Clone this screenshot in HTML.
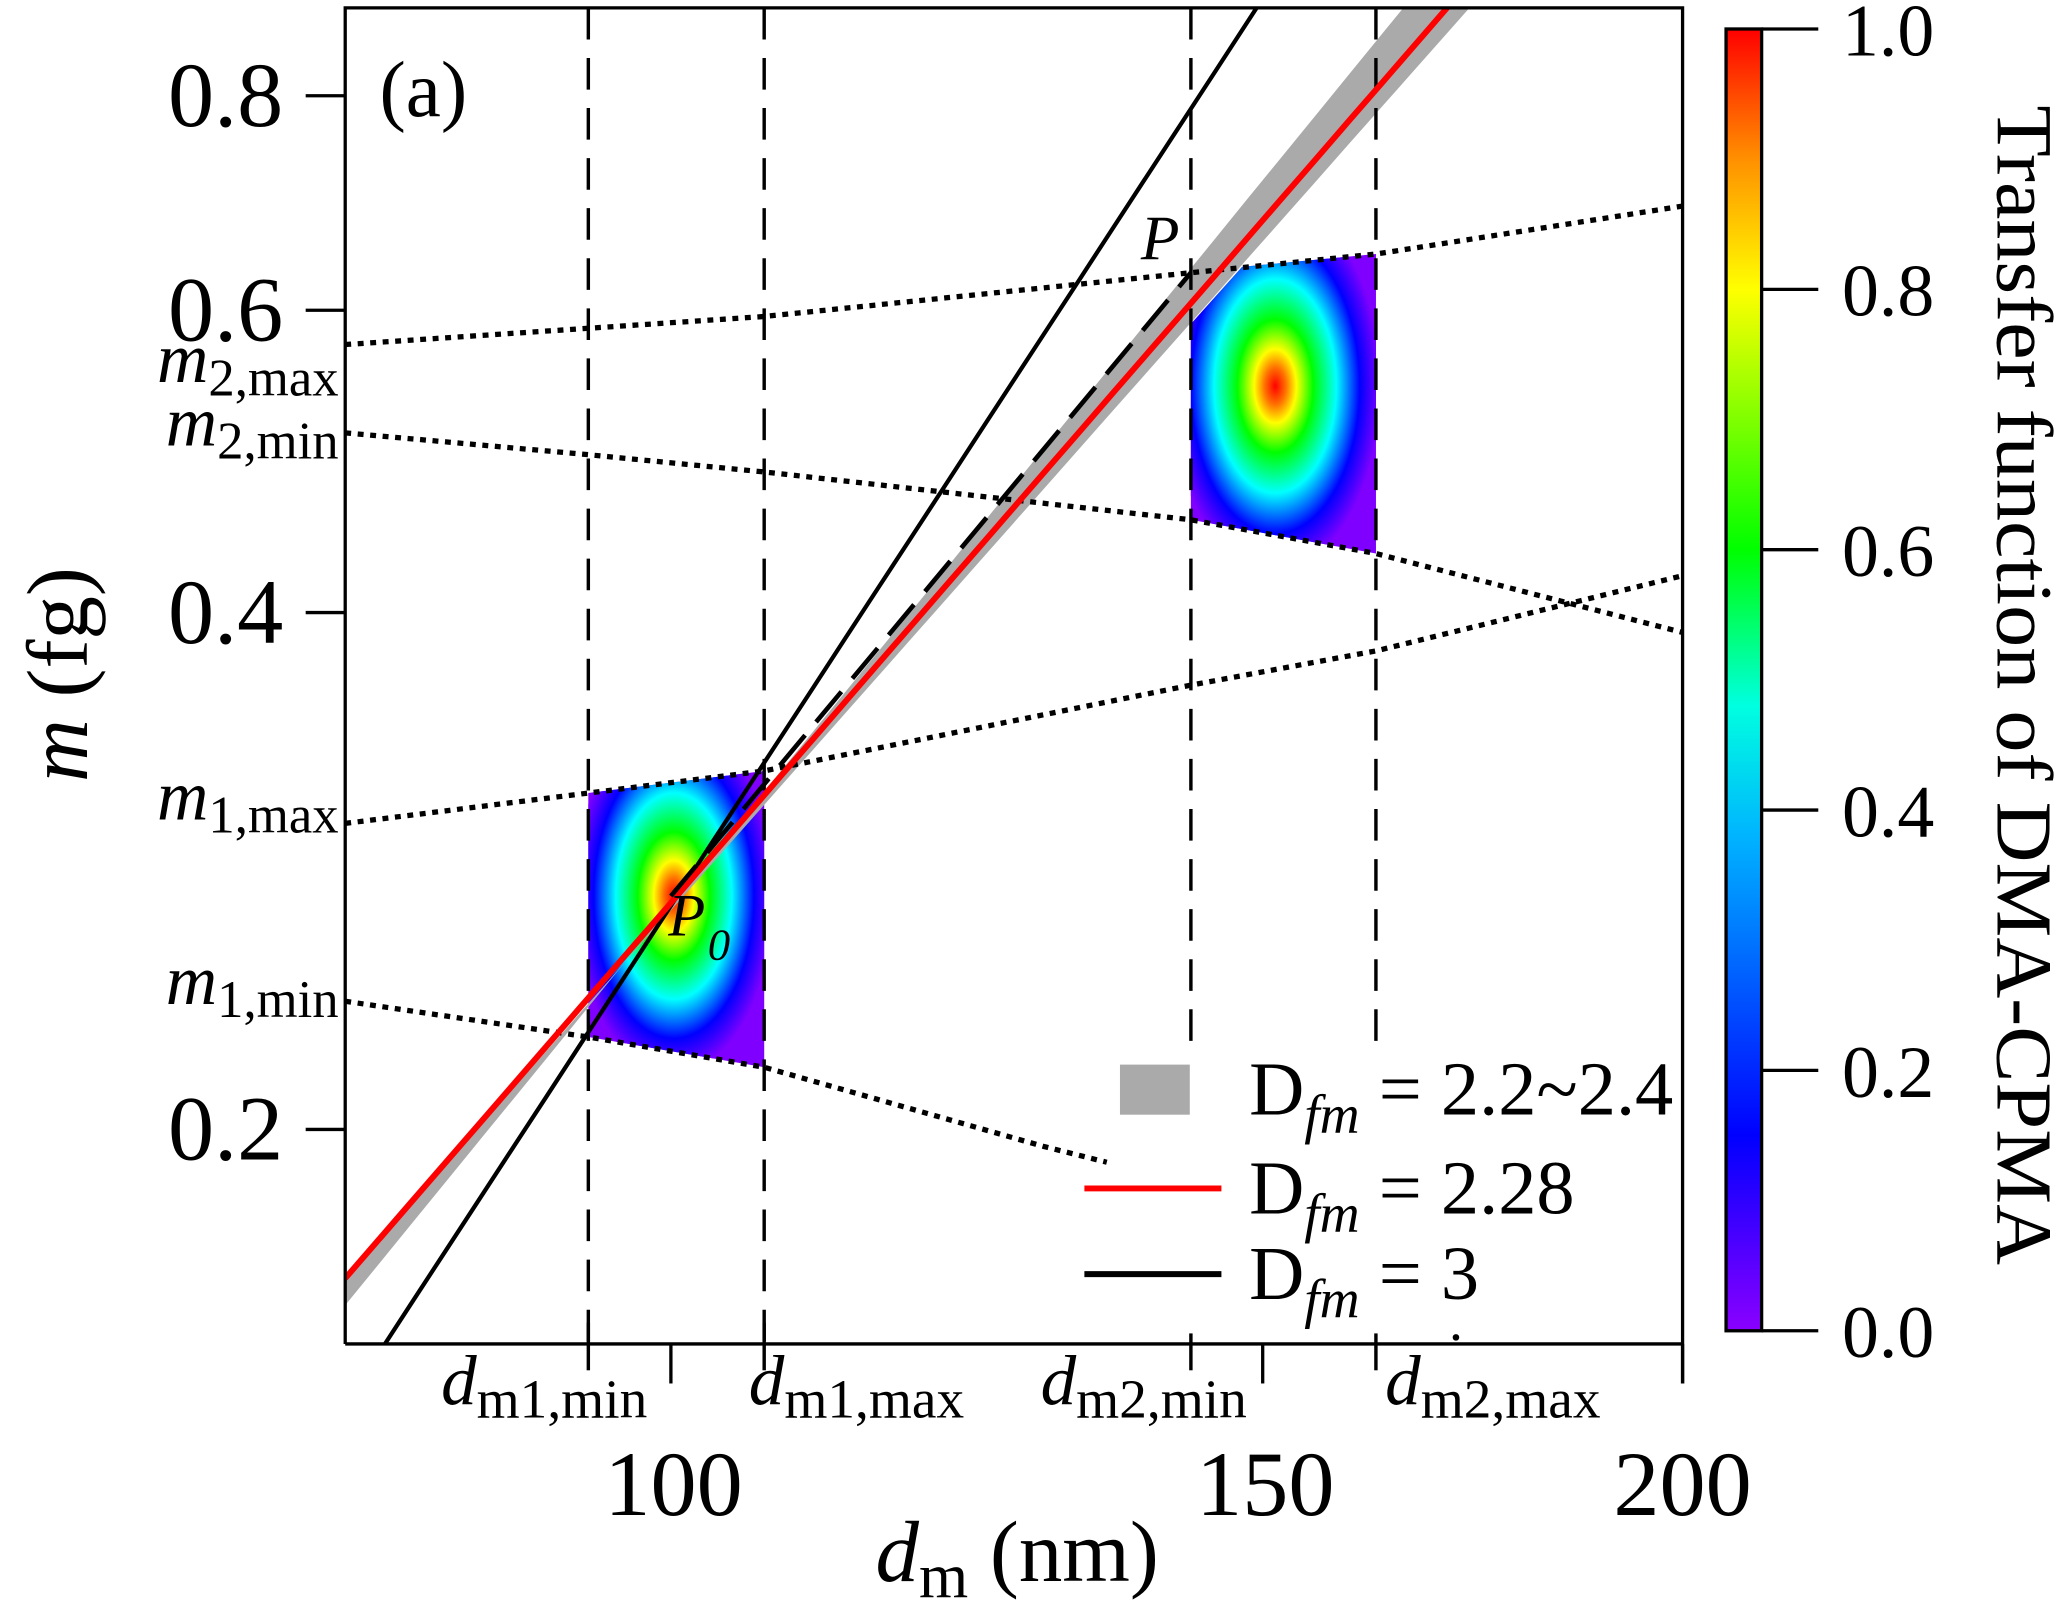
<!DOCTYPE html>
<html><head><meta charset="utf-8">
<style>
html,body{margin:0;padding:0;background:#fff;}
svg{display:block;font-family:"Liberation Serif","DejaVu Serif",serif;}
</style></head>
<body>
<svg id="chart" width="2066" height="1613" viewBox="0 0 1568 1224.2" preserveAspectRatio="none" xmlns="http://www.w3.org/2000/svg">
<defs>
  <clipPath id="plotclip"><rect x="262" y="6" width="1015" height="1014"/></clipPath>
  <linearGradient id="cbgrad" x1="0" y1="1" x2="0" y2="0">
    <stop offset="0" stop-color="#8a00ff"/>
    <stop offset="0.15" stop-color="#0000ff"/>
    <stop offset="0.38" stop-color="#00b4ff"/>
    <stop offset="0.48" stop-color="#00ffe0"/>
    <stop offset="0.6" stop-color="#00ff00"/>
    <stop offset="0.8" stop-color="#ffff00"/>
    <stop offset="0.9" stop-color="#ff9000"/>
    <stop offset="1" stop-color="#ff0000"/>
  </linearGradient>
  <radialGradient id="tfgrad">
    <stop offset="0" stop-color="#ff0000"/>
    <stop offset="0.1" stop-color="#ff7000"/>
    <stop offset="0.2" stop-color="#ffff00"/>
    <stop offset="0.36" stop-color="#00ff00"/>
    <stop offset="0.58" stop-color="#00ffff"/>
    <stop offset="0.8" stop-color="#0000ff"/>
    <stop offset="1" stop-color="#8000ff"/>
  </radialGradient>
</defs>
<g id="patches"></g>
<g id="marks" clip-path="url(#plotclip)"></g>
<g id="axes"></g>
<g id="legend"></g>
<g id="colorbar"></g>
</svg>
<script>
// ---- data ----
const xTicks = [100, 150, 200];
const yTicks = [0.2, 0.4, 0.6, 0.8];
const yTickLabels = ["0.2", "0.4", "0.6", "0.8"];
const cbTicks = [0, 0.2, 0.4, 0.6, 0.8, 1.0];
const cbTickLabels = ["0.0", "0.2", "0.4", "0.6", "0.8", "1.0"];
const dBounds = [94.5, 106.6, 142.8, 162.1];
const dBoundNames = ["m1,min", "m1,max", "m2,min", "m2,max"];
const m2maxD = [80, 106.6, 142.8, 162.1, 200];
const m2maxM = [0.573, 0.595, 0.631, 0.647, 0.690];
const m2minD = [80, 94.5, 106.6, 142.8, 162.1, 200];
const m2minM = [0.509, 0.4943, 0.483, 0.453, 0.433, 0.3895];
const m1maxD = [80, 94.5, 106.6, 142.8, 162.1, 200];
const m1maxM = [0.3015, 0.314, 0.3235, 0.3629, 0.380, 0.4203];
const m1minD = [80, 94.5, 106.6, 129.1, 134.8];
const m1minM = [0.2375, 0.2264, 0.2174, 0.1955, 0.1914];
const redDfm = 2.257, blackDfm = 3, bandLo = 2.212, bandHi = 2.40;
const redRef = [80, 0.1638];
const bandLoRef = [80, 0.1638];
const bandHiRef = [80, 0.158];
const p0 = [100, 0.2735];
const pPoint = [142.8, 0.631];
const blackAt100 = 0.270;
const patch1Center = [100.2, 0.2735];
const patch1D = [94.5, 106.6, 106.6, 94.5];
const patch1M = [0.314, 0.3235, 0.2174, 0.2264];
const patch2Center = [151.3, 0.542];
const patch2D = [142.8, 142.8, 147.9, 162.1, 162.1];
const patch2M = [0.453, 0.589, 0.636, 0.647, 0.433];

// ---- axes functions ----
const X0 = 262, X1 = 1277, Y0 = 6, Y1 = 1020;
const xmin = 80, xmax = 200, ymin = 0.15, ymax = 0.9;
function sx(d){ return X0 + (X1 - X0) * Math.log(d / xmin) / Math.log(xmax / xmin); }
function sy(m){ return Y1 - (Y1 - Y0) * Math.log(m / ymin) / Math.log(ymax / ymin); }
const CB_X = 1310, CB_W = 27, CB_Y0 = 22, CB_Y1 = 1010;
function cy(v){ return CB_Y1 - (CB_Y1 - CB_Y0) * v; }

const NS = "http://www.w3.org/2000/svg";
function mk(tag, parent, attrs){
  const e = document.createElementNS(NS, tag);
  for (const k in attrs) e.setAttribute(k, attrs[k]);
  parent.appendChild(e);
  return e;
}
const patches = document.getElementById('patches');
const marks = document.getElementById('marks');
const axes = document.getElementById('axes');
const legend = document.getElementById('legend');
const colorbar = document.getElementById('colorbar');

// ---- patches ----
function drawPatch(D, M, c, rx, ry, name){
  const pts = D.map((d,i)=> sx(d).toFixed(1)+','+sy(M[i]).toFixed(1)).join(' ');
  const id = name + '-clip';
  const cp = mk('clipPath', patches, {id:id});
  mk('polygon', cp, {points: pts});
  const bg = mk('polygon', patches, {points: pts, fill:'#8000ff'});
  
  
  const el = mk('ellipse', patches, {cx: sx(c[0]), cy: sy(c[1]), rx: rx, ry: ry, fill:'url(#tfgrad)', 'clip-path':'url(#'+id+')'});
  
  
}
drawPatch(patch1D, patch1M, patch1Center, 76, 135, 'transfer-patch-1');
drawPatch(patch2D, patch2M, patch2Center, 80, 140, 'transfer-patch-2');

// ---- gray band ----
const bandD = [];
for (let i=0;i<=40;i++) bandD.push(xmin * Math.pow(xmax/xmin, i/40));
const hiPts = bandD.map(d => sx(d).toFixed(1)+','+sy(bandHiRef[1]*Math.pow(d/bandHiRef[0], bandHi)).toFixed(1));
const loPts = bandD.slice().reverse().map(d => sx(d).toFixed(1)+','+sy(bandLoRef[1]*Math.pow(d/bandLoRef[0], bandLo)).toFixed(1));
const band = mk('polygon', marks, {points: hiPts.concat(loPts).join(' '), fill:'#aaaaaa'});



// ---- vertical dashed bounds ----
dBounds.forEach((d,i)=>{
  const yEnd = i >= 2 ? 795 : 1020;
  const l = mk('line', marks, {x1:sx(d), x2:sx(d), y1:Y0, y2:yEnd, stroke:'#000', 'stroke-width':2.6, 'stroke-dasharray':'24 14'});
  
  
});

// ---- dotted m lines ----
function dotted(D, M, name){
  const pts = D.map((d,i)=> sx(d).toFixed(1)+','+sy(M[i]).toFixed(1)).join(' ');
  const pl = mk('polyline', marks, {points: pts, fill:'none', stroke:'#000', 'stroke-width':4, 'stroke-dasharray':'4.5 5'});
  
  
}
dotted(m2maxD, m2maxM, 'm2-max-line');
dotted(m2minD, m2minM, 'm2-min-line');
dotted(m1maxD, m1maxM, 'm1-max-line');
dotted(m1minD, m1minM, 'm1-min-line');

// ---- power-law lines ----
function powerLine(D, refD, refM, color, w, name){
  const pts = bandD.map(d => sx(d).toFixed(1)+','+sy(refM*Math.pow(d/refD, D)).toFixed(1)).join(' ');
  const pl = mk('polyline', marks, {points: pts, fill:'none', stroke: color, 'stroke-width': w});
  
  
}
powerLine(blackDfm, 100, blackAt100, '#000', 3.2, 'dfm-3-line');
powerLine(redDfm, redRef[0], redRef[1], '#ff0000', 4.5, 'dfm-2.28-line');
const dl = mk('line', marks, {x1:sx(p0[0]), y1:sy(p0[1]), x2:sx(pPoint[0]), y2:sy(pPoint[1]), stroke:'#000', 'stroke-width':3.5, 'stroke-dasharray':'30 13'});



// point labels
const pl0 = mk('text', marks, {x: sx(p0[0]) - 2, y: sy(p0[1]) + 30, 'font-size':46, 'font-style':'italic'});
pl0.textContent = 'P';


const pl0s = mk('text', marks, {x: sx(p0[0]) + 28, y: sy(p0[1]) + 48, 'font-size':34, 'font-style':'italic'});
pl0s.textContent = '0';


const plp = mk('text', marks, {x: sx(pPoint[0]) - 38, y: sy(pPoint[1]) - 10, 'font-size':48, 'font-style':'italic'});
plp.textContent = 'P';



// ---- axes frame ----
const frame = mk('path', axes, {d:`M${X0},${Y1} L${X0},${Y0} L${X1},${Y0} L${X1},1050 M${X0},${Y1} L${X1},${Y1}`, fill:'none', stroke:'#000', 'stroke-width':2.5});



yTicks.forEach((v,i)=>{
  const t = mk('line', axes, {x1:232, x2:X0, y1:sy(v), y2:sy(v), stroke:'#000', 'stroke-width':2.5});
  
  
  const lb = mk('text', axes, {x:215, y:sy(v)+23, 'font-size':70, 'text-anchor':'end'});
  lb.textContent = yTickLabels[i];
  
  
});
xTicks.forEach((v)=>{
  const t = mk('line', axes, {x1:sx(v), x2:sx(v), y1:Y1, y2:1050, stroke:'#000', 'stroke-width':2.5});
  
  
  const lb = mk('text', axes, {x:sx(v)+(v===200?0:2), y:1150, 'font-size':70, 'text-anchor':'middle'});
  lb.textContent = String(v);
  
  
});
dBounds.forEach((d,i)=>{
  const t = mk('line', axes, {x1:sx(d), x2:sx(d), y1:1004, y2:1040, stroke:'#000', 'stroke-width':2.6});
  
  
});
// bound labels on x
const dLabelX = [413, 650, 868, 1133];
dBoundNames.forEach((n,i)=>{
  const t = mk('text', axes, {x:dLabelX[i], y:1066, 'font-size':54, 'text-anchor':'middle'});
  t.innerHTML = '<tspan font-style="italic">d</tspan><tspan font-size="42" dy="10">' + n + '</tspan>';
  
  
});
// m labels on y
const mLabelY = [290, 338, 622, 762];
const mLabelSub = ["2,max", "2,min", "1,max", "1,min"];
mLabelSub.forEach((s,i)=>{
  const t = mk('text', axes, {x:257, y:mLabelY[i], 'font-size':54, 'text-anchor':'end'});
  t.innerHTML = '<tspan font-style="italic">m</tspan><tspan font-size="40" dy="10">' + s + '</tspan>';
  
  
});
const pa = mk('text', axes, {x:288, y:88, 'font-size':60});
pa.textContent = '(a)';


const xt = mk('text', axes, {x:772, y:1200, 'font-size':66, 'text-anchor':'middle'});
xt.innerHTML = '<tspan font-style="italic">d</tspan><tspan font-size="48" dy="12">m</tspan><tspan dy="-12"> (nm)</tspan>';


const yt = mk('text', axes, {x:0, y:0, 'font-size':66, 'text-anchor':'middle', transform:'translate(66,512) rotate(-90)'});
yt.innerHTML = '<tspan font-style="italic">m</tspan> (fg)';



// ---- legend ----
const lbg = mk('rect', legend, {x:842, y:796, width:430, height:216, fill:'#fff'});


const sw = mk('rect', legend, {x:850, y:808, width:53, height:38, fill:'#aaaaaa'});


const lr = mk('line', legend, {x1:823, x2:927, y1:902, y2:902, stroke:'#ff0000', 'stroke-width':4.5});


const lk = mk('line', legend, {x1:823, x2:927, y1:967, y2:967, stroke:'#000', 'stroke-width':4.5});


const legVals = ["2.2~2.4", "2.28", "3"];
const legY = [846, 921, 986];
legVals.forEach((v,i)=>{
  const t = mk('text', legend, {x:948, y:legY[i], 'font-size':58});
  t.innerHTML = 'D<tspan font-size="42" font-style="italic" dy="14">fm</tspan><tspan dy="-14"> = ' + v + '</tspan>';
  
  
});
const dot = mk('circle', legend, {cx:1105, cy:1015, r:2.5, fill:'#000'});



// ---- colorbar ----
const cbr = mk('rect', colorbar, {x:CB_X, y:CB_Y0, width:CB_W, height:CB_Y1-CB_Y0, fill:'url(#cbgrad)', stroke:'#000', 'stroke-width':2.5});


cbTicks.forEach((v,i)=>{
  const t = mk('line', colorbar, {x1:CB_X+CB_W, x2:1380, y1:cy(v), y2:cy(v), stroke:'#000', 'stroke-width':2.5});
  
  
  const lb = mk('text', colorbar, {x:1398, y:cy(v)+20, 'font-size':56});
  lb.textContent = cbTickLabels[i];
  
  
});
const cbt = mk('text', colorbar, {x:0, y:0, 'font-size':60, 'text-anchor':'middle', textLength:880, lengthAdjust:'spacingAndGlyphs', transform:'translate(1516,520) rotate(90)'});
cbt.textContent = 'Transfer function of DMA-CPMA';


</script>
</body></html>
